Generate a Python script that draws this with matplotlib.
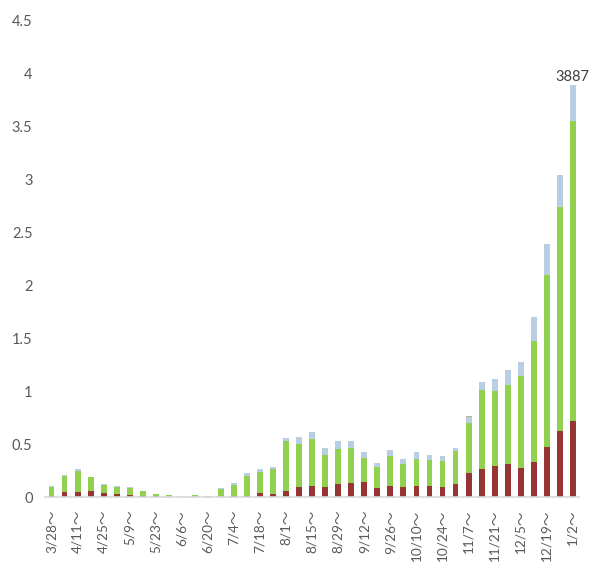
import matplotlib
matplotlib.use("Agg")
import matplotlib.pyplot as plt
import numpy as np

plt.rcParams['font.family'] = ['Lato', 'Noto Sans CJK JP', 'DejaVu Sans']

# weekly start dates (every bar), values in thousands
weeks = ["3/28", "4/4", "4/11", "4/18", "4/25", "5/2", "5/9", "5/16", "5/23", "5/30",
         "6/6", "6/13", "6/20", "6/27", "7/4", "7/11", "7/18", "7/25", "8/1", "8/8",
         "8/15", "8/22", "8/29", "9/5", "9/12", "9/19", "9/26", "10/3", "10/10", "10/17",
         "10/24", "10/31", "11/7", "11/14", "11/21", "11/28", "12/5", "12/12", "12/19", "12/26",
         "1/2"]

red = [0.016, 0.053, 0.053, 0.062, 0.044, 0.034, 0.025, 0.008, 0.008, 0.002,
       0.0, 0.002, 0.0, 0.0, 0.010, 0.015, 0.038, 0.031, 0.062, 0.102,
       0.107, 0.094, 0.125, 0.132, 0.141, 0.085, 0.107, 0.097, 0.107, 0.107,
       0.097, 0.125, 0.226, 0.267, 0.296, 0.314, 0.280, 0.333, 0.475, 0.626,
       0.720]
green = [0.084, 0.151, 0.197, 0.127, 0.072, 0.066, 0.060, 0.049, 0.020, 0.018,
         0.005, 0.017, 0.004, 0.081, 0.109, 0.189, 0.204, 0.236, 0.472, 0.404,
         0.443, 0.305, 0.331, 0.333, 0.233, 0.201, 0.283, 0.220, 0.257, 0.248,
         0.248, 0.312, 0.478, 0.745, 0.704, 0.746, 0.864, 1.142, 1.622, 2.114,
         2.830]
blue = [0.010, 0.009, 0.014, 0.006, 0.009, 0.006, 0.009, 0.006, 0.005, 0.003,
        0.003, 0.004, 0.0, 0.006, 0.016, 0.025, 0.025, 0.022, 0.028, 0.062,
        0.064, 0.063, 0.078, 0.063, 0.053, 0.035, 0.056, 0.041, 0.063, 0.041,
        0.045, 0.031, 0.057, 0.073, 0.116, 0.140, 0.135, 0.223, 0.293, 0.300,
        0.337]
tan = [0.0] * 41
tan[12] = 0.012
tan[20] = 0.005
tan[32] = 0.010

x = np.arange(len(weeks))
red = np.array(red)
green = np.array(green)
blue = np.array(blue)
tan = np.array(tan)

fig = plt.figure(figsize=(5.93, 5.76), dpi=100)
ax = fig.add_axes([0.0759, 0.1366, 0.9011, 0.8282])

w = 0.45
ax.bar(x, red, w, color="#963634")
ax.bar(x, green, w, bottom=red, color="#92D050")
ax.bar(x, blue, w, bottom=red + green, color="#B9CDE5")
ax.bar(x, tan, w, bottom=red + green + blue, color="#C9AE86")

total = red + green + blue + tan
ax.annotate(f"{total[-1] * 1000:.0f}", (x[-1], total[-1]), xytext=(0, 1),
            textcoords="offset points", ha="center", va="bottom",
            fontsize=10.5, color="#404040")

ax.set_xlim(-0.5, len(weeks) - 0.5)
ax.set_ylim(0, 4.5)
ax.set_yticks(np.arange(0, 4.51, 0.5))
ax.set_yticklabels(["0", "0.5", "1", "1.5", "2", "2.5", "3", "3.5", "4", "4.5"])
ax.set_xticks(x[::2])
ax.set_xticklabels([w_ + "～" for w_ in weeks[::2]], rotation=90, fontsize=9.8)

for s in ["top", "right", "left"]:
    ax.spines[s].set_visible(False)
ax.spines["bottom"].set_color("#D9D9D9")
ax.spines["bottom"].set_linewidth(1.2)
ax.tick_params(axis="y", length=0, pad=9, labelsize=10.5, labelcolor="#595959")
ax.tick_params(axis="x", length=0, pad=9, labelcolor="#595959")

fig.savefig("out.png", dpi=100)
